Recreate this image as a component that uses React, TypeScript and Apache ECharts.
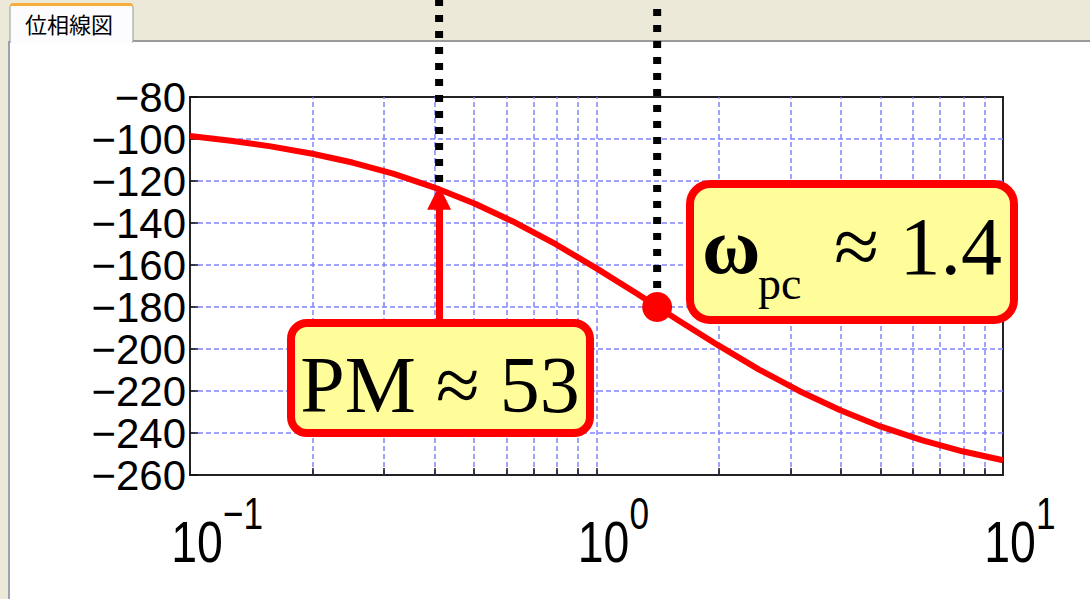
import React, { useEffect, useRef } from "react";
import * as echarts from "echarts";

// Frequency (rad/s) and phase (deg)
const omega = [0.1, 0.126, 0.158, 0.2, 0.251, 0.316, 0.398, 0.501, 0.631, 0.794, 1.0, 1.259, 1.585, 1.995, 2.512, 3.162, 3.981, 5.012, 6.31, 7.943, 10];
const phaseDeg = [-98.6, -100.8, -103.5, -107.0, -111.2, -116.5, -123.0, -130.7, -139.8, -150.1, -161.6, -173.7, -186.2, -198.3, -209.8, -220.1, -229.2, -237.0, -243.4, -248.7, -253.0];

// Axis settings
const yMin = -260;
const yMax = -80;
const yStep = 20;
const xMin = 0.1;
const xMax = 10;
const xDecades = [0.1, 1, 10];
const xDecadeBase = "10";
const xDecadeExp = ["−1", "0", "1"];
const xGridValues = [0.2, 0.3, 0.4, 0.5, 0.6, 0.7, 0.8, 0.9, 1, 2, 3, 4, 5, 6, 7, 8, 9];

// Annotations
const gainCrossover = 0.41;
const pmArrowFrom = -186;
const pmArrowTo = -128;
const pmGuideEnd = -120.5;
const phaseCrossover = 1.41;
const phaseAtCrossover = -180;
const pcGuideEnd = -171;
const guideTop = -33;
const tabTitle = "位相線図";
const pmText = "PM ≈ 53";
const wSymbol = "ω";
const wSub = "pc";
const wValue = "≈ 1.4";

const SANS = "'Liberation Sans', Arial, sans-serif";
const SERIF = "'Liberation Serif', 'Times New Roman', serif";
const GRID_BLUE = "#8383FF";

function txt(x: number, y: number, text: string, font: string, align = "left", z = 101, scaleX = 1) {
  return {
    type: "text",
    x,
    y,
    z,
    scaleX,
    silent: true,
    style: {
      text,
      font,
      fill: "#000",
      align,
      verticalAlign: "middle",
      textAlign: align,
      textVerticalAlign: "middle",
    },
  };
}

export default function App() {
  const ref = useRef<HTMLDivElement>(null);

  useEffect(() => {
    if (!ref.current) return;
    const chart = echarts.init(ref.current, undefined, { renderer: "svg" });

    const curve = omega.map((w, i) => [w, phaseDeg[i]]);

    const gridLines = xGridValues.map((v) => ({ xAxis: v }));
    const tickLines = xGridValues.map((v) => [
      { coord: [v, yMin], lineStyle: { color: "#111", type: "solid", width: 1.5 } },
      { coord: [v, yMin + 3.3] },
    ]);

    const chrome: any[] = [
      { type: "rect", z: 0, silent: true, shape: { x: 0, y: 0, width: 1090, height: 41 }, style: { fill: "#ECE9D8" } },
      { type: "rect", z: 0, silent: true, shape: { x: 0, y: 41, width: 8, height: 558 }, style: { fill: "#ECE9D8" } },
      { type: "line", z: 1, silent: true, shape: { x1: 9, y1: 41, x2: 9, y2: 599 }, style: { stroke: "#9AA3AD", lineWidth: 2 } },
      { type: "line", z: 1, silent: true, shape: { x1: 133, y1: 41, x2: 1090, y2: 41 }, style: { stroke: "#9A9A9A", lineWidth: 2 } },
      { type: "rect", z: 1, silent: true, shape: { x: 10, y: 4, width: 123, height: 38, r: [3, 3, 0, 0] }, style: { fill: "#FCFCFE", stroke: "#919B9C", lineWidth: 1 } },
      { type: "rect", z: 2, silent: true, shape: { x: 10, y: 3, width: 123, height: 3, r: [3, 3, 0, 0] }, style: { fill: "#F5AE3C" } },
      { type: "rect", z: 2, silent: true, shape: { x: 11, y: 41, width: 121, height: 3 }, style: { fill: "#FCFCFE" } },
      txt(25, 23, tabTitle, "22px 'Noto Sans CJK JP', sans-serif", "left", 3),
      // PM box
      { type: "rect", z: 100, silent: true, shape: { x: 291, y: 323, width: 299, height: 110, r: 16 }, style: { fill: "#FFFD9A", stroke: "#FF0000", lineWidth: 8 } },
      txt(440, 385, pmText, `80px ${SERIF}`, "center"),
      // omega_pc box
      { type: "rect", z: 100, silent: true, shape: { x: 690, y: 184, width: 324, height: 136, r: 20 }, style: { fill: "#FFFD9A", stroke: "#FF0000", lineWidth: 8 } },
      txt(702, 246, wSymbol, `bold 80px ${SERIF}`, "left"),
      txt(758, 283, wSub, `46px ${SERIF}`, "left"),
      txt(834, 246, wValue, `82px ${SERIF}`, "left"),
    ];

    const option: any = {
      animation: false,
      backgroundColor: "#ffffff",
      grid: {
        left: 190,
        top: 97,
        width: 813,
        height: 378,
        show: true,
        borderColor: "#222",
        borderWidth: 2,
        backgroundColor: "transparent",
      },
      xAxis: {
        type: "log",
        logBase: 10,
        min: xMin,
        max: xMax,
        splitNumber: 2,
        axisLine: { show: true, lineStyle: { color: "#222", width: 2 } },
        axisTick: { show: false },
        splitLine: { show: false },
        axisLabel: { show: false },
      },
      yAxis: {
        type: "value",
        min: yMin,
        max: yMax,
        interval: yStep,
        axisLine: { show: true, lineStyle: { color: "#222", width: 2 } },
        axisTick: { show: true, inside: true, length: 8, lineStyle: { color: "#111", width: 1.5 } },
        axisLabel: {
          fontSize: 42,
          lineHeight: 40,
          fontFamily: SANS,
          color: "#000",
          margin: 4,
          showMinLabel: true,
          showMaxLabel: true,
          hideOverlap: false,
          formatter: (v: number) => String(v).replace("-", "−"),
        },
        splitLine: {
          show: true,
          showMinLine: false,
          showMaxLine: false,
          lineStyle: { color: GRID_BLUE, type: [5, 3], width: 1.5 },
        },
      },
      series: [
        {
          name: "phase",
          type: "line",
          data: curve,
          symbol: "none",
          z: 3,
          lineStyle: { color: "#FF0000", width: 6 },
          silent: true,
          markLine: {
            silent: true,
            z: 1,
            symbol: "none",
            label: { show: false },
            emphasis: { disabled: true },
            lineStyle: { color: GRID_BLUE, type: [5, 3], width: 1.5 },
            data: [...gridLines, ...tickLines],
          },
        },
        {
          name: "pcGuide",
          type: "line",
          data: [
            [phaseCrossover, pcGuideEnd],
            [phaseCrossover, guideTop],
          ],
          symbol: "none",
          clip: false,
          z: 10,
          silent: true,
          lineStyle: { color: "#000", width: 8, type: [7, 9], cap: "butt" },
        },
        {
          name: "pmGuide",
          type: "line",
          data: [
            [gainCrossover, pmGuideEnd],
            [gainCrossover, guideTop],
          ],
          symbol: "none",
          clip: false,
          z: 10,
          silent: true,
          lineStyle: { color: "#000", width: 8, type: [7, 9], cap: "butt" },
        },
        {
          name: "crossover",
          type: "scatter",
          data: [[phaseCrossover, phaseAtCrossover]],
          symbol: "circle",
          symbolSize: 30,
          z: 6,
          silent: true,
          itemStyle: { color: "#FF0000", opacity: 1 },
          markLine: {
            silent: true,
            z: 5,
            symbol: ["none", "triangle"],
            symbolSize: 24,
            label: { show: false },
            emphasis: { disabled: true },
            lineStyle: { color: "#FF0000", width: 7, type: "solid" },
            data: [[{ coord: [gainCrossover, pmArrowFrom] }, { coord: [gainCrossover, pmArrowTo] }]],
          },
        },
      ],
      graphic: chrome,
    };

    chart.setOption(option);

    // x-axis decade labels placed through the axis scale
    const yBottom = chart.convertToPixel({ yAxisIndex: 0 }, yMin) as number;
    const labels: any[] = [];
    xDecades.forEach((v, i) => {
      const px = chart.convertToPixel({ xAxisIndex: 0 }, v) as number;
      labels.push(txt(px + 7, yBottom + 67, xDecadeBase, `58px ${SANS}`, "center", 20, 0.8));
      labels.push(txt(px + 33, yBottom + 39, xDecadeExp[i], `44px ${SANS}`, "left", 20, 0.8));
    });
    chart.setOption({ graphic: [...chrome, ...labels] });

    return () => chart.dispose();
  }, []);

  return (
    <div
      ref={ref}
      style={{ position: "absolute", left: 0, top: 0, width: 1090, height: 599, background: "#fff" }}
    />
  );
}
